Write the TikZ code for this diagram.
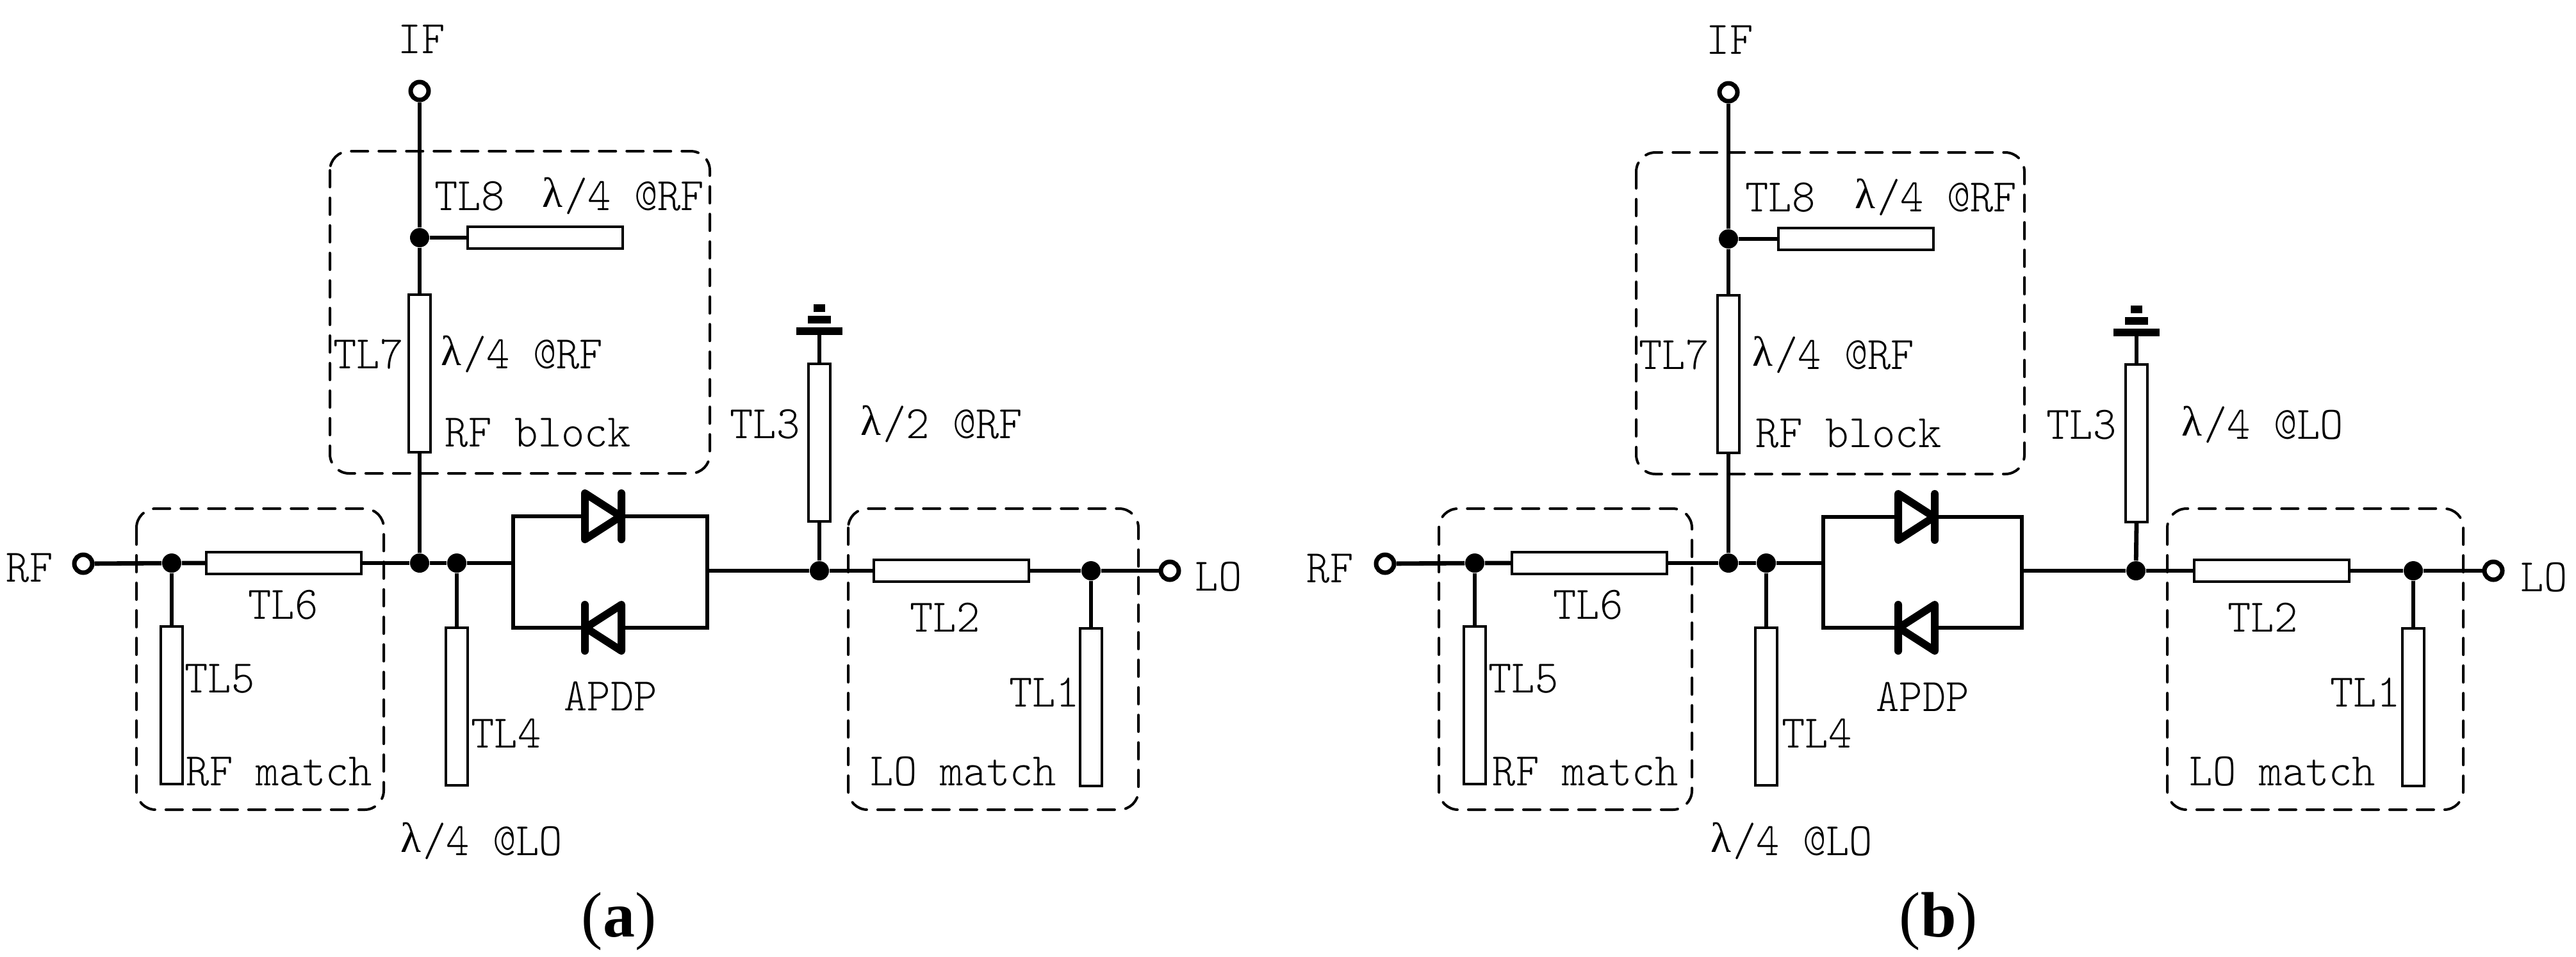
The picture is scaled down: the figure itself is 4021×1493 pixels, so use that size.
\documentclass[tikz,border=0pt]{standalone}
\usepackage{fontspec}
\setmonofont{Latin Modern Mono Light}[FakeStretch=0.95]
\newfontfamily\capfont{Liberation Serif}
\newcommand{\lam}{\makebox[.525em]{\raisebox{.06em}{\capfont\fontsize{16.5}{16.5}\selectfont λ}}}
\tikzset{
  wire/.style={line width=1.7pt},
  box/.style={line width=1pt, line cap=round, dash pattern=on 6.5pt off 4.25pt, rounded corners=7.5pt},
  dot/.style={circle, fill=black, inner sep=0pt, minimum size=7.5pt},
  term/.style={circle, draw, fill=white, line width=1.75pt, inner sep=0pt, minimum size=7pt},
  vtl/.style={rectangle, draw, fill=white, line width=1pt, inner sep=0pt, minimum width=8.5pt, minimum height=61.5pt},
  htl/.style={rectangle, draw, fill=white, line width=1pt, inner sep=0pt, minimum width=60.5pt, minimum height=8.5pt},
  lab/.style={font=\ttfamily\fontsize{18.2}{18.2}\selectfont, inner sep=0pt, text height=11.6pt, text depth=0pt},
  subcap/.style={font=\capfont\fontsize{25}{25}\selectfont, inner sep=0pt},
  diode/.pic={
    \draw[line width=3pt, line join=round, line cap=round]
      (-28,-36) -- (28,0) -- (-28,36) -- cycle (29,-36) -- (29,36);
  },
  gnd/.pic={
    \fill (-36,-12) rectangle (36,0);
    \fill (-18,-30) rectangle (18,-18);
    \fill (-9,-48) rectangle (9,-36);
  }
}
\begin{document}
\begin{tikzpicture}[x=.25pt,y=-.25pt]
\useasboundingbox (0,0) rectangle (4021,1493);

% panel a
\draw[box] (515,236) rectangle (1108,739);
\draw[box] (213,794) rectangle (599,1264);
\draw[box] (1324,794) rectangle (1777,1264);

\node[term] (aif) at (655,142) {};
\node[term] (arf) at (130,880) {};
\node[term] (alo) at (1826,891) {};
\node[dot] (aj8) at (655,371) {};
\node[dot] (aj5) at (268,879) {};
\node[dot] (aj7) at (655,879) {};
\node[dot] (aj4) at (713,879) {};
\node[dot] (aj3) at (1279,891) {};
\node[dot] (aj1) at (1703,891) {};
\node[vtl] (atl7) at (655,583) {};
\node[vtl] (atl3) at (1279,691) {};
\node[vtl] (atl5) at (268,1101) {};
\node[vtl] (atl4) at (713,1103) {};
\node[vtl] (atl1) at (1703,1104) {};
\node[htl] (atl8) at (851,371) {};
\node[htl] (atl6) at (443,879) {};
\node[htl] (atl2) at (1485,891) {};

\coordinate (aml) at (801,879);
\coordinate (amr) at (1104,891);
\coordinate (atl) at (801,806);
\coordinate (abl) at (801,980);
\coordinate (atr) at (1104,806);
\coordinate (abr) at (1104,980);
\coordinate (ad1l) at (913,806);
\coordinate (ad1r) at (970,806);
\coordinate (ad2l) at (913,980);
\coordinate (ad2r) at (970,980);
\coordinate (agnd) at (1279,523);

\draw[wire] (aif) -- (aj8) -- (atl7.north);
\draw[wire] (aj8) -- (atl8.west);
\draw[wire] (atl7.south) -- (aj7);
\draw[wire] (arf) -- (aj5) -- (atl6.west);
\draw[wire] (aj5) -- (atl5.north);
\draw[wire] (atl6.east) -- (aj7) -- (aj4) -- (aml);
\draw[wire] (aj4) -- (atl4.north);
\draw[wire, line cap=rect] (ad1l) -- (atl) -- (abl) -- (ad2l);
\draw[wire, line cap=rect] (ad1r) -- (atr) -- (abr) -- (ad2r);
\draw[wire] (amr) -- (aj3) -- (atl2.west);
\draw[wire] (aj3) -- (atl3.south);
\draw[wire] (atl3.north) -- (agnd);
\draw[wire] (atl2.east) -- (aj1) -- (alo);
\draw[wire] (aj1) -- (atl1.north);
\pic at (941,806) {diode};
\pic[rotate=180] at (942,980) {diode};
\pic at (agnd) {gnd};

\node[lab] (aif-t) at (658,60) {IF};
\node[lab] (arf-t) at (46,885) {RF};
\node[lab] (alo-t) at (1902,899) {LO};
\node[lab] (a8-t) at (733,305) {TL8};
\node[lab] (a8l-t) at (971,305) {\lam/4 @RF};
\node[lab] (a7-t) at (575,552) {TL7};
\node[lab] (a7l-t) at (813,552) {\lam/4 @RF};
\node[lab] (abl-t) at (840,674) {RF block};
\node[lab] (a3-t) at (1194,661) {TL3};
\node[lab] (a3l-t) at (1468,661) {\lam/2 @RF};
\node[lab] (a6-t) at (442,943) {TL6};
\node[lab] (a5-t) at (343,1058) {TL5};
\node[lab] (amr-t) at (436,1203) {RF match};
\node[lab] (a4-t) at (790,1144) {TL4};
\node[lab] (aap-t) at (953,1086) {APDP};
\node[lab] (a4l-t) at (750,1312) {\lam/4 @LO};
\node[lab] (a2-t) at (1475,963) {TL2};
\node[lab] (a1-t) at (1630,1080) {TL1};
\node[lab] (aml-t) at (1504,1203) {LO match};
\node[subcap] (acap) at (966,1438) {(\textbf{a})};

% panel b
\draw[box] (2554,238) rectangle (3160,740);
\draw[box] (2246,794) rectangle (2641,1264);
\draw[box] (3383,794) rectangle (3845,1264);

\node[term] (bif) at (2698,144) {};
\node[term] (brf) at (2162,880) {};
\node[term] (blo) at (3892,891) {};
\node[dot] (bj8) at (2698,373) {};
\node[dot] (bj5) at (2302,879) {};
\node[dot] (bj7) at (2698,879) {};
\node[dot] (bj4) at (2757,879) {};
\node[dot] (bj3) at (3334,891) {};
\node[dot] (bj1) at (3767,891) {};
\node[vtl] (btl7) at (2698,584) {};
\node[vtl] (btl3) at (3335,692) {};
\node[vtl] (btl5) at (2302,1101) {};
\node[vtl] (btl4) at (2757,1103) {};
\node[vtl] (btl1) at (3767,1104) {};
\node[htl] (btl8) at (2897,373) {};
\node[htl] (btl6) at (2481,879) {};
\node[htl] (btl2) at (3546,891) {};

\coordinate (bml) at (2846,879);
\coordinate (bmr) at (3156,891);
\coordinate (btl) at (2846,807);
\coordinate (bbl) at (2846,980);
\coordinate (btr) at (3156,807);
\coordinate (bbr) at (3156,980);
\coordinate (bd1l) at (2963,807);
\coordinate (bd1r) at (3020,807);
\coordinate (bd2l) at (2963,980);
\coordinate (bd2r) at (3020,980);
\coordinate (bgnd) at (3335,525);

\draw[wire] (bif) -- (bj8) -- (btl7.north);
\draw[wire] (bj8) -- (btl8.west);
\draw[wire] (btl7.south) -- (bj7);
\draw[wire] (brf) -- (bj5) -- (btl6.west);
\draw[wire] (bj5) -- (btl5.north);
\draw[wire] (btl6.east) -- (bj7) -- (bj4) -- (bml);
\draw[wire] (bj4) -- (btl4.north);
\draw[wire, line cap=rect] (bd1l) -- (btl) -- (bbl) -- (bd2l);
\draw[wire, line cap=rect] (bd1r) -- (btr) -- (bbr) -- (bd2r);
\draw[wire] (bmr) -- (bj3) -- (btl2.west);
\draw[wire] (bj3) -- (btl3.south);
\draw[wire] (btl3.north) -- (bgnd);
\draw[wire] (btl2.east) -- (bj1) -- (blo);
\draw[wire] (bj1) -- (btl1.north);
\pic at (2991,807) {diode};
\pic[rotate=180] at (2992,980) {diode};
\pic at (bgnd) {gnd};

\node[lab] (bif-t) at (2700,61) {IF};
\node[lab] (brf-t) at (2076,886) {RF};
\node[lab] (blo-t) at (3971,900) {LO};
\node[lab] (b8-t) at (2779,307) {TL8};
\node[lab] (b8l-t) at (3020,307) {\lam/4 @RF};
\node[lab] (b7-t) at (2613,553) {TL7};
\node[lab] (b7l-t) at (2860,553) {\lam/4 @RF};
\node[lab] (bbl-t) at (2886,675) {RF block};
\node[lab] (b3-t) at (3249,662) {TL3};
\node[lab] (b3l-t) at (3530,662) {\lam/4 @LO};
\node[lab] (b6-t) at (2479,943) {TL6};
\node[lab] (b5-t) at (2378,1058) {TL5};
\node[lab] (bmr-t) at (2475,1203) {RF match};
\node[lab] (b4-t) at (2836,1144) {TL4};
\node[lab] (bap-t) at (3001,1087) {APDP};
\node[lab] (b4l-t) at (2795,1312) {\lam/4 @LO};
\node[lab] (b2-t) at (3532,963) {TL2};
\node[lab] (b1-t) at (3692,1080) {TL1};
\node[lab] (bml-t) at (3563,1203) {LO match};
\node[subcap] (bcap) at (3026,1438) {(\textbf{b})};
\end{tikzpicture}
\end{document}
